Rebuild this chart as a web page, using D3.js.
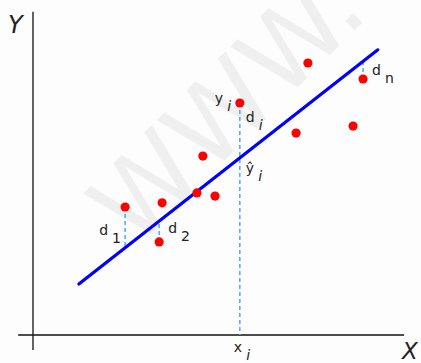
<!doctype html>
<html lang="en">

<head>
  <title>Least squares regression line</title>
  <meta charset="utf-8" />
  <script src="https://d3js.org/d3.v7.min.js"></script>
  <style>
    body { margin: 0; background: #fdfdfd; }
    text { font-family: "DejaVu Sans", Verdana, sans-serif; fill: #222; }
  </style>
</head>

<body>
  <figure id="scatter" style="margin:0"></figure>

  <script>
    const xValues = [2.49, 3.49, 3.41, 4.43, 4.92, 4.59, 5.59, 7.11, 7.43, 8.65, 8.92];
    const yValues = [4.00, 4.13, 2.91, 4.44, 4.34, 5.59, 7.25, 6.31, 8.50, 6.53, 8.00];
    // fitted line y = a + b x, drawn between these x values
    const intercept = 0.467;
    const slope = 0.906;
    const lineExtent = [1.24, 9.32];
    // which points get a residual drawn, and the text next to it
    const residualIdx = [0, 2, 6, 10];
    const residualNames = ["1", "2", "i", "n"];

    const width = 421, height = 363;
    const svg = d3.select("#scatter").append("svg")
      .attr("width", width)
      .attr("height", height);

    const xScale = d3.scaleLinear().domain([0, 10]).range([33, 403]);
    const yScale = d3.scaleLinear().domain([0, 10]).range([335, 15]);
    const fit = x => intercept + slope * x;

    /* watermark */
    svg.append("text")
      .text("WWW.W")
      .attr("transform", "translate(135,250) rotate(-45)")
      .style("font-size", "105px")
      .style("fill", "#efefef");

    /* axes */
    svg.append("line")
      .attr("x1", xScale(-0.4)).attr("x2", xScale(10.03))
      .attr("y1", yScale(0)).attr("y2", yScale(0))
      .attr("stroke", "#111").attr("stroke-width", 1.3);
    svg.append("line")
      .attr("x1", xScale(0)).attr("x2", xScale(0))
      .attr("y1", yScale(-0.47)).attr("y2", yScale(10.1))
      .attr("stroke", "#111").attr("stroke-width", 1.3);

    svg.append("text").text("Y")
      .attr("x", 8).attr("y", 33)
      .style("font-size", "24px").style("font-style", "italic");
    svg.append("text").text("X")
      .attr("x", 402).attr("y", 359)
      .style("font-size", "23px").style("font-style", "italic");

    /* residual segments */
    svg.selectAll("line.resid")
      .data(residualIdx)
      .enter()
      .append("line")
      .attr("class", "resid")
      .attr("x1", i => xScale(xValues[i]))
      .attr("x2", i => xScale(xValues[i]))
      .attr("y1", i => yScale(yValues[i]))
      .attr("y2", i => i === 6 ? yScale(0) : yScale(fit(xValues[i])))
      .attr("stroke", "#4da6ff")
      .attr("stroke-width", 1.5)
      .attr("stroke-dasharray", "4,3");

    /* regression line */
    svg.append("line")
      .attr("x1", xScale(lineExtent[0])).attr("y1", yScale(fit(lineExtent[0])))
      .attr("x2", xScale(lineExtent[1])).attr("y2", yScale(fit(lineExtent[1])))
      .attr("stroke", "#0000ff")
      .attr("stroke-width", 3.2)
      .attr("stroke-linecap", "round");

    /* points */
    svg.selectAll("circle")
      .data(xValues)
      .enter()
      .append("circle")
      .attr("cx", d => xScale(d))
      .attr("cy", (d, i) => yScale(yValues[i]))
      .attr("r", 4.6)
      .attr("fill", "#ff0000");

    /* labels: main letter plus lowered subscript */
    function label(main, sub, x, y, italicSub) {
      const t = svg.append("text").attr("x", x).attr("y", y).style("font-size", "14px");
      t.append("tspan").text(main);
      t.append("tspan").text(sub)
        .attr("dx", 4).attr("dy", 8)
        .style("font-style", italicSub ? "italic" : "normal");
    }

    const dLabelOffsets = [[-26, 28], [9, -9], [6, 19], [9, -4]];
    residualIdx.forEach((idx, k) => {
      label("d", residualNames[k],
        xScale(xValues[idx]) + dLabelOffsets[k][0],
        yScale(yValues[idx]) + dLabelOffsets[k][1],
        residualNames[k] === "i");
    });

    const iPt = residualIdx[2];
    label("y", "i", xScale(xValues[iPt]) - 25, yScale(yValues[iPt]) + 0, true);
    label("\u0177", "i", xScale(xValues[iPt]) + 6, yScale(fit(xValues[iPt])) + 15, true);
    label("x", "i", xScale(xValues[iPt]) - 6, yScale(0) + 17, true);
  </script>

</body></html>
